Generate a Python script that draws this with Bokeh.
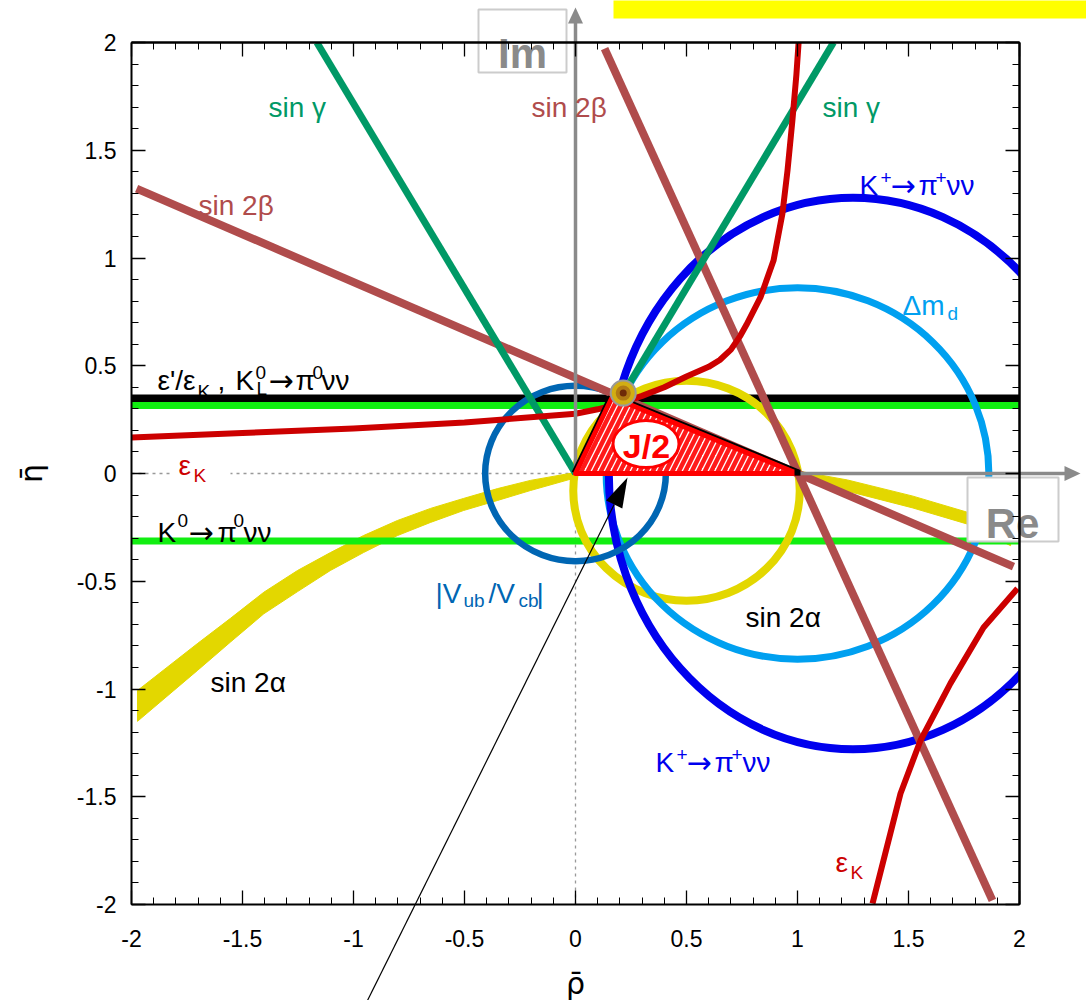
import numpy as np
from bokeh.plotting import figure
from bokeh.models import (Range1d, LinearAxis, SingleIntervalTicker, FixedTicker,
                          CustomJSTickFormatter, ColumnDataSource)
from bokeh.core.properties import value
from bokeh.embed import file_html
from bokeh.resources import INLINE

# ---------------- values (rho-bar, eta-bar) ----------------
tri_apex = (0.165, 0.354)
fit_point = (0.215, 0.373)

eps_prime_eta = 0.348      # eps'/eps_K , K_L -> pi0 nu nu
kl_green_eta = 0.316
k0_green_eta = -0.313

sin_gamma_top_x = [-1.165, 1.162]          # lines from origin up to eta = 2
sin_gamma_top_y = [2.0, 2.0]
sin2beta_a_x = [-1.977, 1.973]
sin2beta_a_y = [1.322, -0.432]
sin2beta_b_x = [0.131, 1.878]
sin2beta_b_y = [1.972, -1.981]

vub_center = (0.0, 0.0)
vub_radius = 0.407
dmd_center = (1.0, 0.0)
dmd_radius = 0.862
kplus_center = (1.25, 0.0)
kplus_semi_axes = (1.10, 1.28)
sin2a_circle_center = (0.5, -0.08)
sin2a_circle_radius = 0.51

sin2a_band_x = [-1.973, -1.704, -1.554, -1.404, -1.252, -1.104, -0.955, -0.802, -0.653, -0.505, -0.351, -0.203, 0.0]
sin2a_band_hi = [-1.007, -0.790, -0.672, -0.551, -0.450, -0.367, -0.288, -0.218, -0.162, -0.116, -0.070, -0.032, 0.005]
sin2a_band_lo = [-1.150, -0.915, -0.782, -0.651, -0.548, -0.450, -0.367, -0.288, -0.227, -0.172, -0.125, -0.079, -0.020]
sin2a_band2_x = [1.0, 1.225, 1.52, 1.766, 1.96]
sin2a_band2_hi = [0.012, -0.030, -0.105, -0.180, -0.272]
sin2a_band2_lo = [-0.018, -0.082, -0.160, -0.235, -0.335]

epsk_up_x = [-2.0, -1.5, -1.0, -0.5, 0.0, 0.1, 0.2, 0.3, 0.4, 0.5, 0.6, 0.65, 0.7, 0.743, 0.77, 0.833, 0.892, 0.932, 0.955, 0.977, 0.995, 1.005]
epsk_up_y = [0.167, 0.188, 0.209, 0.237, 0.277, 0.298, 0.325, 0.36, 0.40, 0.45, 0.495, 0.527, 0.575, 0.640, 0.69, 0.817, 0.988, 1.206, 1.406, 1.638, 1.85, 2.0]
epsk_lo_x = [1.338, 1.464, 1.554, 1.689, 1.838, 1.991]
epsk_lo_y = [-1.995, -1.485, -1.239, -0.974, -0.715, -0.534]

tick_values = [-2, -1.5, -1, -0.5, 0, 0.5, 1, 1.5, 2]

# ---------------- colours ----------------
C_GREEN = "#009966"
C_BROWN = "#b04c4c"
C_RED = "#cc0000"
C_BLUE = "#0000ee"
C_LBLUE = "#00a0f0"
C_DBLUE = "#0066b3"
C_YELLOW = "#e3d700"
C_LIME = "#11ee11"
C_GRAY = "#8a8a8a"
FONT = "Liberation Sans"

W, H = 1086, 1000


def X(px):
    return (px - 575.0) / 222.0


def Y(py):
    return (473.0 - py) / 215.5


p = figure(width=W, height=H,
           x_range=Range1d(X(0), X(W)), y_range=Range1d(Y(H), Y(0)),
           x_axis_location=None, y_axis_location=None,
           toolbar_location=None, output_backend="svg", min_border=0)
p.outline_line_color = None
p.grid.visible = False
p.background_fill_color = "white"
p.border_fill_color = "white"

# ---------------- frame axes ----------------
fmt = CustomJSTickFormatter(code="return String(Math.round(tick*10)/10)")


def labelled_axis(side, loc, label, lab_standoff, ax_standoff):
    ax = LinearAxis(fixed_location=loc, bounds=(-2, 2),
                    ticker=SingleIntervalTicker(interval=0.5, num_minor_ticks=5),
                    formatter=fmt)
    ax.axis_line_width = 2
    ax.axis_line_color = "black"
    ax.major_tick_in = 14
    ax.major_tick_out = 0
    ax.minor_tick_in = 7
    ax.minor_tick_out = 0
    ax.major_tick_line_width = 1.3
    ax.minor_tick_line_width = 1
    ax.major_label_text_font = FONT
    ax.major_label_text_font_size = "23px"
    ax.major_label_text_color = "black"
    ax.major_label_standoff = lab_standoff
    ax.axis_label = label
    ax.axis_label_text_font = "DejaVu Sans"
    ax.axis_label_text_font_size = "30px"
    ax.axis_label_text_font_style = "normal"
    ax.axis_label_text_color = "black"
    ax.axis_label_standoff = ax_standoff
    p.add_layout(ax, side)


labelled_axis("left", -2, "η̄", 15, 25)
labelled_axis("below", -2, "ρ̄", 25, 16)

minor_pos = [round(-2 + 0.1 * i, 1) for i in range(41)]
for side in ("above", "right"):
    for ticks, length in ((minor_pos, 7), (tick_values, 14)):
        ax = LinearAxis(fixed_location=2, bounds=(-2, 2),
                        ticker=FixedTicker(ticks=[], minor_ticks=ticks))
        ax.axis_line_width = 2
        ax.axis_line_color = "black"
        ax.minor_tick_in = length
        ax.minor_tick_out = 0
        ax.minor_tick_line_color = "black"
        ax.minor_tick_line_width = 1.3 if length > 10 else 1
        ax.major_tick_line_color = None
        p.add_layout(ax, side)

# ---------------- dotted reference lines ----------------
p.line([-2, 0], [0, 0], line_color="#999999", line_width=1.3, line_dash="3 4")
p.line([0, 0], [-2, 0], line_color="#999999", line_width=1.3, line_dash="3 4")
# white patch behind the left eps_K label
p.quad(left=X(170), right=X(230), top=Y(448), bottom=Y(480), fill_color="white", line_color=None)

# ---------------- constraints ----------------
p.patch(sin2a_band_x + sin2a_band_x[::-1], sin2a_band_hi + sin2a_band_lo[::-1],
        fill_color=C_YELLOW, line_color=C_YELLOW, line_width=1)
p.patch(sin2a_band2_x + sin2a_band2_x[::-1], sin2a_band2_hi + sin2a_band2_lo[::-1],
        fill_color=C_YELLOW, line_color=C_YELLOW, line_width=1)

p.line([-2, 2], [eps_prime_eta, eps_prime_eta], line_color="black", line_width=8)
p.line([-2, 2], [kl_green_eta, kl_green_eta], line_color=C_LIME, line_width=7)
p.line([-2, 2], [k0_green_eta, k0_green_eta], line_color=C_LIME, line_width=7)

p.ellipse(x=sin2a_circle_center[0], y=sin2a_circle_center[1],
          width=2 * sin2a_circle_radius, height=2 * sin2a_circle_radius,
          fill_color=None, line_color=C_YELLOW, line_width=8)
p.ellipse(x=dmd_center[0], y=dmd_center[1], width=2 * dmd_radius, height=2 * dmd_radius,
          fill_color=None, line_color=C_LBLUE, line_width=7)
p.ellipse(x=kplus_center[0], y=kplus_center[1],
          width=2 * kplus_semi_axes[0], height=2 * kplus_semi_axes[1],
          fill_color=None, line_color=C_BLUE, line_width=8)
p.ellipse(x=vub_center[0], y=vub_center[1], width=2 * vub_radius, height=2 * vub_radius,
          fill_color=None, line_color=C_DBLUE, line_width=6.5)

p.line(sin2beta_a_x, sin2beta_a_y, line_color=C_BROWN, line_width=8)
p.line(sin2beta_b_x, sin2beta_b_y, line_color=C_BROWN, line_width=8)

for tx, ty in zip(sin_gamma_top_x, sin_gamma_top_y):
    p.line([0, tx], [0, ty], line_color=C_GREEN, line_width=7)

p.line(epsk_up_x, epsk_up_y, line_color=C_RED, line_width=6, line_join="round")
p.line(epsk_lo_x, epsk_lo_y, line_color=C_RED, line_width=6, line_join="round")

# ---------------- mask outside the frame (mimics clipping) ----------------
for l, r, b, t in ((-4, -2, -4, 4), (2, 4, -4, 4), (-4, 4, 2, 4), (-4, 4, -4, -2)):
    p.quad(left=l, right=r, bottom=b, top=t, fill_color="white", line_color=None)

# ---------------- Re / Im arrows ----------------
p.line([0, 0], [0, Y(22)], line_color=C_GRAY, line_width=3.5)
p.patch([X(567.5), X(582.5), X(575)], [Y(23), Y(23), Y(7)], fill_color=C_GRAY, line_color=None)
p.line([0, X(1066)], [0, 0], line_color=C_GRAY, line_width=3.5)
p.patch([X(1064), X(1064), X(1080)], [Y(465.5), Y(480.5), Y(473)], fill_color=C_GRAY, line_color=None)

# ---------------- unitarity triangle ----------------
p.line([-0.012, tri_apex[0] - 0.012], [0.006, tri_apex[1] + 0.006], line_color="black", line_width=2.5)
p.line([tri_apex[0] + 0.005, 1.005], [tri_apex[1] + 0.013, 0.013], line_color="black", line_width=2.5)
p.patch([0, tri_apex[0], 1], [0, tri_apex[1], 0], fill_color="white",
        hatch_pattern="/", hatch_color="#ff1a1a", hatch_weight=4.5, hatch_scale=13,
        line_color="#ff0000", line_width=5, line_join="round")
p.scatter([1.0], [0.004], marker="square", size=6, fill_color="black", line_color=None)

p.ellipse(x=X(645.5), y=Y(443.5), width=66 / 222.0, height=47 / 215.5,
          fill_color="white", line_color="#ff0000", line_width=3)
p.text(x=[X(646)], y=[Y(445)], text=["J/2"], text_color="#ff0000",
       text_font=value(FONT), text_font_size="34px", text_font_style="bold",
       text_align="center", text_baseline="middle")

# fitted apex point
p.scatter([fit_point[0]], [fit_point[1]], size=25, fill_color="#d2ae12", line_color="#9a9a9a", line_width=2)
p.scatter([fit_point[0]], [fit_point[1]], size=15, fill_color="#b07a14", line_color=None)
p.scatter([fit_point[0]], [fit_point[1]], size=7, fill_color="#6e2a08", line_color=None)

# pointer arrow
p.line([X(364), X(613.7)], [Y(1006), Y(503.9)], line_color="black", line_width=1.2)
p.patch([X(627), X(621.8), X(605.6)], [Y(477), Y(507.9), Y(499.9)], fill_color="black", line_color=None)

# ---------------- Im / Re boxes and top banner ----------------
p.quad(left=X(478), right=X(566), top=Y(9), bottom=Y(72), fill_color="white",
       line_color="#cccccc", line_width=2)
p.quad(left=X(967), right=X(1058), top=Y(477), bottom=Y(541), fill_color="white",
       line_color="#cccccc", line_width=2)
p.text(x=[X(522), X(1012)], y=[Y(53), Y(523)], text=["Im", "Re"], text_color=C_GRAY,
       text_font=value(FONT), text_font_size="42px", text_font_style="bold",
       text_align="center", text_baseline="alphabetic")
p.quad(left=X(613), right=X(1095), top=Y(-2), bottom=Y(18), fill_color="#ffff00", line_color=None)

# ---------------- labels (text, page-x, baseline page-y, colour, size) ----------------
B, s = "28px", "19px"
labels = [
    ("sin γ", 268, 107, C_GREEN, B), ("sin γ", 822, 107, C_GREEN, B),
    ("sin 2β", 198, 205, C_BROWN, B), ("sin 2β", 531, 107, C_BROWN, B),
    ("K", 859, 185, C_BLUE, B), ("+", 880, 177, C_BLUE, s), ("π", 918, 185, C_BLUE, B),
    ("+", 935, 177, C_BLUE, s), ("νν", 946, 185, C_BLUE, B),
    ("K", 655, 762, C_BLUE, B), ("+", 676, 754, C_BLUE, s), ("π", 714, 762, C_BLUE, B),
    ("+", 731, 754, C_BLUE, s), ("νν", 742, 762, C_BLUE, B),
    ("Δm", 902, 305, C_LBLUE, B), ("d", 947, 313, C_LBLUE, s),
    ("ε'/ε", 157, 380, "black", B), ("K", 197, 391, "black", s), (",", 217, 380, "black", B),
    ("K", 235, 380, "black", B), ("0", 255, 372, "black", s), ("L", 256, 388, "black", s),
    ("π", 295, 380, "black", B), ("0", 312, 372, "black", s), ("νν", 321, 380, "black", B),
    ("K", 157, 532, "black", B), ("0", 177, 520, "black", s), ("π", 217, 532, "black", B),
    ("0", 233, 520, "black", s), ("νν", 243, 532, "black", B),
    ("sin 2α", 745, 617, "black", B), ("sin 2α", 210, 682, "black", B),
    ("ε", 178, 465, C_RED, B), ("K", 193, 475, C_RED, s),
    ("ε", 835, 862, C_RED, B), ("K", 850, 872, C_RED, s),
    ("|V", 435, 593, C_DBLUE, B), ("ub", 463, 600, C_DBLUE, s), ("/V", 488, 593, C_DBLUE, B),
    ("cb", 518, 600, C_DBLUE, s), ("|", 536, 593, C_DBLUE, B),
]
src = ColumnDataSource(dict(
    x=[X(l[1]) for l in labels], y=[Y(l[2]) for l in labels],
    text=[l[0] for l in labels], color=[l[3] for l in labels], size=[l[4] for l in labels]))
p.text(x="x", y="y", text="text", source=src, text_color="color", text_font_size="size",
       text_font=value(FONT), text_align="left", text_baseline="alphabetic")

# arrows inside the decay labels (wider glyph)
arrows = [(890, 185, C_BLUE), (686, 762, C_BLUE), (268, 380, "black"), (188, 532, "black")]
asrc = ColumnDataSource(dict(
    x=[X(a[0]) for a in arrows], y=[Y(a[1]) for a in arrows],
    text=["→"] * len(arrows), color=[a[2] for a in arrows]))
p.text(x="x", y="y", text="text", source=asrc, text_color="color", text_font_size="30px",
       text_font=value("DejaVu Sans"), text_align="left", text_baseline="alphabetic")

open("out.html", "w").write(file_html(p, INLINE))
